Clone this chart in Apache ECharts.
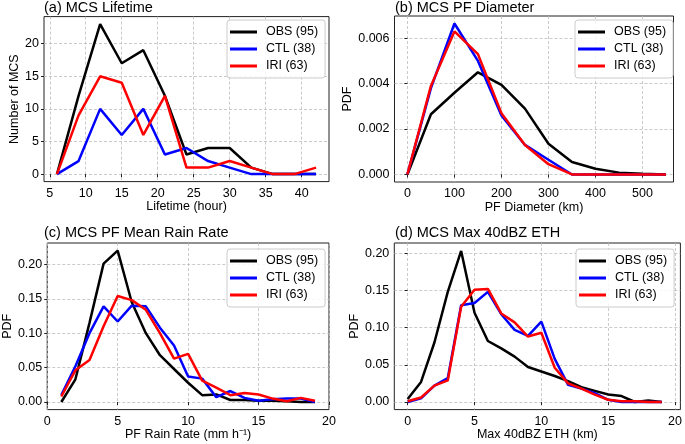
<!DOCTYPE html>
<html><head><meta charset="utf-8">
<script src="https://cdn.jsdelivr.net/npm/echarts@6/dist/echarts.min.js"></script>
<style>html,body{margin:0;padding:0;background:#fff}#c{width:685px;height:444px}</style>
</head><body><div id="c"></div>
<script>
// ---- data ----
const seriesNames = ['OBS (95)', 'CTL (38)', 'IRI (63)'];
const seriesColors = ['#000000', '#0000ff', '#ff0000'];

const lifetimeX = [6, 9, 12, 15, 18, 21, 24, 27, 30, 33, 36, 39, 42];
const lifetimeOBS = [0, 12, 23, 17, 19, 12, 3, 4, 4, 1, 0, 0, 0];
const lifetimeCTL = [0, 2, 10, 6, 10, 3, 4, 2, 1, 0, 0, 0, 0];
const lifetimeIRI = [0, 9, 15, 14, 6, 12, 1, 1, 2, 1, 0, 0, 1];

const diamX = [0, 50, 100, 150, 200, 250, 300, 350, 400, 450, 500, 550];
const diamOBS = [0, 0.00265, 0.0036, 0.0045, 0.00395, 0.0029, 0.00135, 0.00055, 0.00025, 0.00008, 0.00003, 0];
const diamCTL = [0, 0.0038, 0.00665, 0.0050, 0.0026, 0.0013, 0.00065, 0, 0, 0, 0, 0];
const diamIRI = [0, 0.0039, 0.0063, 0.0053, 0.0027, 0.0013, 0.00045, 0, 0, 0, 0, 0];

const rainX = [1, 2, 3, 4, 5, 6, 7, 8, 9, 10, 11, 12, 13, 14, 15, 16, 17, 18, 19];
const rainOBS = [0, 0.033, 0.115, 0.201, 0.220, 0.145, 0.100, 0.068, 0.048, 0.028, 0.010, 0.011, 0.003, 0.003, 0.002, 0.002, 0.001, 0, 0];
const rainCTL = [0.010, 0.052, 0.100, 0.139, 0.117, 0.140, 0.139, 0.108, 0.082, 0.037, 0.034, 0.007, 0.016, 0.006, 0.002, 0.004, 0.005, 0.005, 0];
const rainIRI = [0.008, 0.046, 0.061, 0.110, 0.154, 0.148, 0.134, 0.100, 0.063, 0.070, 0.031, 0.021, 0.010, 0.013, 0.011, 0.005, 0.001, 0.006, 0.002];

const ethX = [0, 1, 2, 3, 4, 5, 6, 7, 8, 9, 10, 11, 12, 13, 14, 15, 16, 17, 18, 19];
const ethOBS = [0.004, 0.027, 0.080, 0.148, 0.203, 0.120, 0.082, 0.072, 0.061, 0.047, 0.041, 0.035, 0.028, 0.020, 0.015, 0.010, 0.008, 0, 0.002, 0];
const ethCTL = [0, 0.005, 0.022, 0.032, 0.130, 0.133, 0.148, 0.118, 0.097, 0.089, 0.108, 0.058, 0.023, 0.018, 0.012, 0.003, 0, 0, 0, 0];
const ethIRI = [0.001, 0.006, 0.022, 0.029, 0.128, 0.151, 0.152, 0.119, 0.107, 0.088, 0.093, 0.046, 0.025, 0.018, 0.010, 0.003, 0.001, 0.001, 0, 0];

const titles = ['(a) MCS Lifetime', '(b) MCS PF Diameter', '(c) MCS PF Mean Rain Rate', '(d) MCS Max 40dBZ ETH'];
const xNames = ['Lifetime (hour)', 'PF Diameter (km)', 'PF Rain Rate (mm h\u207B\u00B9)', 'Max 40dBZ ETH (km)'];
const yNames = ['Number of MCS', 'PDF', 'PDF', 'PDF'];
const xTicks = [[5, 10, 15, 20, 25, 30, 35, 40], [0, 100, 200, 300, 400, 500], [0, 5, 10, 15, 20], [0, 5, 10, 15, 20]];
const yTicks = [[0, 5, 10, 15, 20], [0, 0.002, 0.004, 0.006], [0, 0.05, 0.10, 0.15, 0.20], [0, 0.05, 0.10, 0.15, 0.20]];

// ---- layout ----
const FONT = '"Liberation Sans", Arial, Helvetica, sans-serif';
const grids = [
  {left: 44, top: 16.6, width: 285, height: 165},
  {left: 394.5, top: 16, width: 279, height: 166},
  {left: 44, top: 243, width: 285, height: 166.6},
  {left: 394.3, top: 243, width: 290, height: 166.6}
];
const xRange = [[4.2, 43.8], [-27.5, 566], [0, 20], [-1, 20.4]];
const yRange = [[-1.15, 24.15], [-0.000333, 0.00698], [-0.011, 0.231], [-0.0102, 0.2137]];
const yFmt = [v => String(v), v => v.toFixed(3), v => v.toFixed(2), v => v.toFixed(2)];
const yNameGap = [23, 39.5, 33, 33];
const legendPos = [[227, 20], [575, 20], [227, 249], [576, 249]];
const titlePos = [[44, 0], [395, 0], [44, 225], [395, 225]];

const panelX = [lifetimeX, diamX, rainX, ethX];
const panelY = [
  [lifetimeOBS, lifetimeCTL, lifetimeIRI],
  [diamOBS, diamCTL, diamIRI],
  [rainOBS, rainCTL, rainIRI],
  [ethOBS, ethCTL, ethIRI]
];

const axisCommon = {
  axisLine: {show: false},
  axisTick: {show: true, inside: false, length: 3, lineStyle: {color: '#222', width: 1}},
  splitLine: {show: true, lineStyle: {color: '#bdbdbd', width: 0.8, type: [3, 2]}},
  nameTextStyle: {fontFamily: FONT, fontSize: 12.5, color: '#000'}
};

const option = {
  animation: false,
  backgroundColor: '#fff',
  title: titles.map((t, i) => ({
    text: t, left: titlePos[i][0], top: titlePos[i][1], padding: 0,
    textStyle: {fontFamily: FONT, fontSize: 14.5, fontWeight: 'normal', color: '#000'}
  })),
  grid: grids.map(g => Object.assign({show: true, borderColor: '#222', borderWidth: 1, backgroundColor: 'transparent'}, g)),
  xAxis: grids.map((g, i) => ({
    type: 'value', gridIndex: i, min: xRange[i][0], max: xRange[i][1],
    name: xNames[i], nameLocation: 'middle', nameGap: 18,
    nameTextStyle: axisCommon.nameTextStyle,
    axisLine: axisCommon.axisLine,
    axisTick: Object.assign({}, axisCommon.axisTick, {customValues: xTicks[i]}),
    axisLabel: {customValues: xTicks[i], margin: 5, fontFamily: FONT, fontSize: 12.5, color: '#000'},
    splitLine: axisCommon.splitLine
  })),
  yAxis: grids.map((g, i) => ({
    type: 'value', gridIndex: i, min: yRange[i][0], max: yRange[i][1],
    name: yNames[i], nameLocation: 'middle', nameGap: yNameGap[i],
    nameTextStyle: axisCommon.nameTextStyle,
    axisLine: axisCommon.axisLine,
    axisTick: Object.assign({}, axisCommon.axisTick, {customValues: yTicks[i]}),
    axisLabel: {customValues: yTicks[i], margin: 5, fontFamily: FONT, fontSize: 12.5, color: '#000', formatter: yFmt[i]},
    splitLine: axisCommon.splitLine
  })),
  legend: legendPos.map((p, i) => ({
    left: p[0], top: p[1], orient: 'vertical',
    data: seriesNames, icon: 'rect', itemWidth: 27, itemHeight: 3, itemGap: 3,
    padding: [5, 7, 5, 3],
    backgroundColor: 'rgba(255,255,255,0.85)', borderColor: '#cccccc', borderWidth: 1, borderRadius: 3,
    selectedMode: false,
    textStyle: {fontFamily: FONT, fontSize: 12.5, color: '#000', lineHeight: 14, padding: [0, 0, 0, 4]}
  })),
  series: []
};

panelY.forEach((ys, i) => {
  ys.forEach((vals, k) => {
    option.series.push({
      name: seriesNames[k], type: 'line', xAxisIndex: i, yAxisIndex: i,
      data: panelX[i].map((x, j) => [x, vals[j]]),
      symbol: 'none', showSymbol: false, clip: true,
      lineStyle: {color: seriesColors[k], width: 2.5},
      itemStyle: {color: seriesColors[k]},
      z: 2 + k
    });
  });
});

const chart = echarts.init(document.getElementById('c'), null, {renderer: 'canvas'});
chart.setOption(option);
</script></body></html>
